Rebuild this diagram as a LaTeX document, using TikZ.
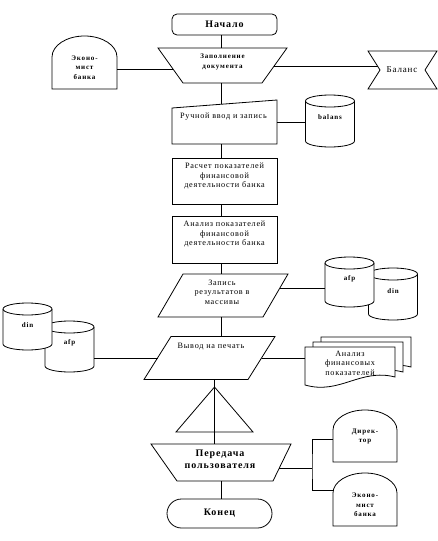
\documentclass[tikz,border=0pt]{standalone}
\usepackage{fontspec}
\setmainfont{Liberation Serif}
\newfontfamily\wideserif[LetterSpace=9.0]{Liberation Serif}
\newfontfamily\widerserif[LetterSpace=12.0]{Liberation Serif}
\usetikzlibrary{calc}
\newcommand\drawcyl[1]{%
  \draw[fill=white] ([yshift=-6pt]#1.north west) -- ([yshift=6pt]#1.south west)
    arc[start angle=180,end angle=360,x radius=24.5pt,y radius=6pt]
    -- ([yshift=-6pt]#1.north east)
    arc[start angle=0,end angle=180,x radius=24.5pt,y radius=6pt] -- cycle;
  \draw ([yshift=-6pt]#1.north west) arc[start angle=180,end angle=360,x radius=24.5pt,y radius=6pt];}
\newcommand\docpath[2]{([shift={(#1,#2)}]docs.south west) -- ([shift={(#1,#2)}]docs.north west)
  -- ([shift={(#1,#2)}]docs.north east) -- ([shift={(#1,#2+8)}]docs.south east)
  .. controls ([shift={(#1-35,#2+17)}]docs.south east) and ([shift={(#1+35,#2-10)}]docs.south west)
  .. ([shift={(#1,#2)}]docs.south west) -- cycle}
\begin{document}
\begin{tikzpicture}[x=1pt,y=1pt,line width=0.8pt,
  frame/.style={draw=none,inner sep=0pt,outer sep=0pt},
  reg/.style={inner sep=0pt,align=center,font=\wideserif\fontsize{8.2}{9.5}\selectfont},
  sbold/.style={inner sep=0pt,align=center,font=\widerserif\bfseries\fontsize{7}{9.5}\selectfont},
  bbold/.style={inner sep=0pt,align=center,font=\wideserif\bfseries\fontsize{10}{12}\selectfont}]
\useasboundingbox (0,0) rectangle (438,-541);
\coordinate (ax) at (221,0);
\coordinate (ax2) at (214.5,0);

% Start
\node[frame,minimum width=105pt,minimum height=21pt] (start) at (224.5,-24.5) {};
\draw[rounded corners=5pt] (start.south west) rectangle (start.north east);
\node[bbold] (startT) at (start) {Начало};

% Fill document
\node[frame,minimum width=129pt,minimum height=35pt] (fill) at (222.5,-65.5) {};
\draw (fill.north west) -- (fill.north east) -- ([xshift=-25pt]fill.south east) -- ([xshift=25pt]fill.south west) -- cycle;
\node[sbold] (fillT) at (222.5,-62) {Заполнение\\документа};

% Economist A
\node[frame,minimum width=65pt,minimum height=53pt] (econA) at (84.5,-62.5) {};
\draw (econA.south west) -- ([yshift=-21pt]econA.north west) arc[start angle=180,end angle=0,x radius=32.5pt,y radius=21pt] -- (econA.south east) -- cycle;
\node[sbold] (econAT) at (84.5,-67.5) {Эконо-\\мист\\банка};

% Balance
\node[frame,minimum width=69pt,minimum height=38pt] (bal) at (402.5,-70) {};
\draw (bal.north west) -- (bal.north east) -- ([xshift=-12pt]bal.east) -- (bal.south east) -- (bal.south west) -- ([xshift=12pt]bal.west) -- cycle;
\node[reg,font=\wideserif\fontsize{9}{11}\selectfont] (balT) at (402,-70) {Баланс};

% Manual input
\node[frame,minimum width=105pt,minimum height=44pt] (manual) at (224.5,-122) {};
\draw ([yshift=-8pt]manual.north west) -- (manual.north east) -- (manual.south east) -- (manual.south west) -- cycle;
\node[reg] (manualT) at (223.5,-117) {Ручной ввод и запись};

% balans cylinder
\node[frame,minimum width=49pt,minimum height=52pt] (balans) at (330,-121) {};
\drawcyl{balans}
\node[sbold] (balansT) at (330,-117) {balans};

% Calc
\node[frame,minimum width=105pt,minimum height=46pt] (calc) at (224.5,-181) {};
\draw (calc.south west) rectangle (calc.north east);
\node[reg] (calcT) at (224.5,-176) {Расчет показателей\\финансовой\\деятельности банка};

% Analysis
\node[frame,minimum width=105pt,minimum height=47pt] (anal) at (224.5,-239.5) {};
\draw (anal.south west) rectangle (anal.north east);
\node[reg] (analT) at (224.5,-234) {Анализ показателей\\финансовой\\деятельности банка};

% Record
\node[frame,minimum width=130pt,minimum height=43pt] (rec) at (223,-295.5) {};
\draw ([xshift=25pt]rec.north west) -- (rec.north east) -- ([xshift=-25pt]rec.south east) -- (rec.south west) -- cycle;
\node[reg] (recT) at (222,-292) {Запись\\результатов в\\массивы};

% Right cylinders
\node[frame,minimum width=49pt,minimum height=52pt] (dinR) at (393,-294) {};
\drawcyl{dinR}
\node[sbold] (dinRT) at (393,-291) {din};
\node[frame,minimum width=49pt,minimum height=50pt] (afpR) at (349.5,-282) {};
\drawcyl{afpR}
\node[sbold] (afpRT) at (349.5,-279) {afp};

% Print
\node[frame,minimum width=131pt,minimum height=43pt] (print) at (209.5,-358) {};
\draw ([xshift=27pt]print.north west) -- (print.north east) -- ([xshift=-27pt]print.south east) -- (print.south west) -- cycle;
\node[reg] (printT) at (211,-347) {Вывод на печать};

% Left cylinders
\node[frame,minimum width=49pt,minimum height=51pt] (afpL) at (69.5,-346.5) {};
\drawcyl{afpL}
\node[sbold] (afpLT) at (69.5,-343) {afp};
\node[frame,minimum width=49pt,minimum height=47pt] (dinL) at (27.5,-326.5) {};
\drawcyl{dinL}
\node[sbold] (dinLT) at (27.5,-325) {din};

% Documents
\node[frame,minimum width=90pt,minimum height=38pt] (docs) at (350,-366) {};
\draw[fill=white] \docpath{16}{10};
\draw[fill=white] \docpath{8}{5};
\draw[fill=white] \docpath{0}{0};
\node[reg] (docsT) at (350,-363) {Анализ\\финансовых\\показателей};

% Triangle
\node[frame,minimum width=77pt,minimum height=45pt] (tri) at (214.5,-409.5) {};
\draw (tri.north) -- (tri.south east) -- (tri.south west) -- cycle;

% Transfer
\node[frame,minimum width=140pt,minimum height=37pt] (transfer) at (221,-462.5) {};
\draw (transfer.north west) -- (transfer.north east) -- ([xshift=-18pt]transfer.south east) -- ([xshift=26pt]transfer.south west) -- cycle;
\node[bbold] (transferT) at (220,-459) {Передача\\пользователя};

% Director
\node[frame,minimum width=64pt,minimum height=52pt] (dir) at (365,-436) {};
\draw (dir.south west) -- ([yshift=-20pt]dir.north west) arc[start angle=180,end angle=0,x radius=32pt,y radius=20pt] -- (dir.south east) -- cycle;
\node[sbold] (dirT) at (365,-436.5) {Дирек-\\тор};

% Economist B
\node[frame,minimum width=64pt,minimum height=53pt] (econB) at (365,-499.5) {};
\draw (econB.south west) -- ([yshift=-20pt]econB.north west) arc[start angle=180,end angle=0,x radius=32pt,y radius=20pt] -- (econB.south east) -- cycle;
\node[sbold] (econBT) at (365,-505) {Эконо-\\мист\\банка};

% End
\node[frame,minimum width=105pt,minimum height=29pt] (finish) at (219.5,-513.5) {};
\draw[rounded corners=14.5pt] (finish.south west) rectangle (finish.north east);
\node[bbold] (finishT) at (finish) {Конец};

% Connectors
\draw (start.south -| ax) -- (fill.north -| ax);
\draw ([yshift=-6.5pt]econA.east) -- ([shift={(15pt,-3.5pt)}]fill.west);
\draw ([shift={(-13pt,-0.5pt)}]fill.east) -- ([shift={(9.5pt,4pt)}]bal.west);
\draw (fill.south -| ax) -- ($(manual.north -| ax)+(0,-4.3)$);
\draw (manual.east) -- (manual.east -| balans.west);
\draw (manual.south -| ax) -- (calc.north -| ax);
\draw (calc.south -| ax) -- (anal.north -| ax);
\draw (anal.south -| ax) -- (rec.north -| ax);
\draw ([shift={(-8pt,7.5pt)}]rec.east) -- ([yshift=-6pt]afpR.west);
\draw (rec.south -| ax) -- (print.north -| ax);
\draw ([yshift=-11.5pt]afpL.east) -- ([xshift=13.8pt]print.west);
\coordinate (printR) at ([xshift=-13.5pt]print.east);
\draw (printR) -- (printR -| docs.west);
\draw (print.south -| ax2) -- (transfer.north -| ax2);
\coordinate (trR) at ([shift={(-11.7pt,-5.5pt)}]transfer.east);
\coordinate (br) at (312,-468);
\draw (trR) -- (br);
\draw ([yshift=-3pt]dir.west) -| (br) |- ([yshift=9.5pt]econB.west);
\draw (transfer.south -| ax) -- (finish.north -| ax);
\end{tikzpicture}
\end{document}
